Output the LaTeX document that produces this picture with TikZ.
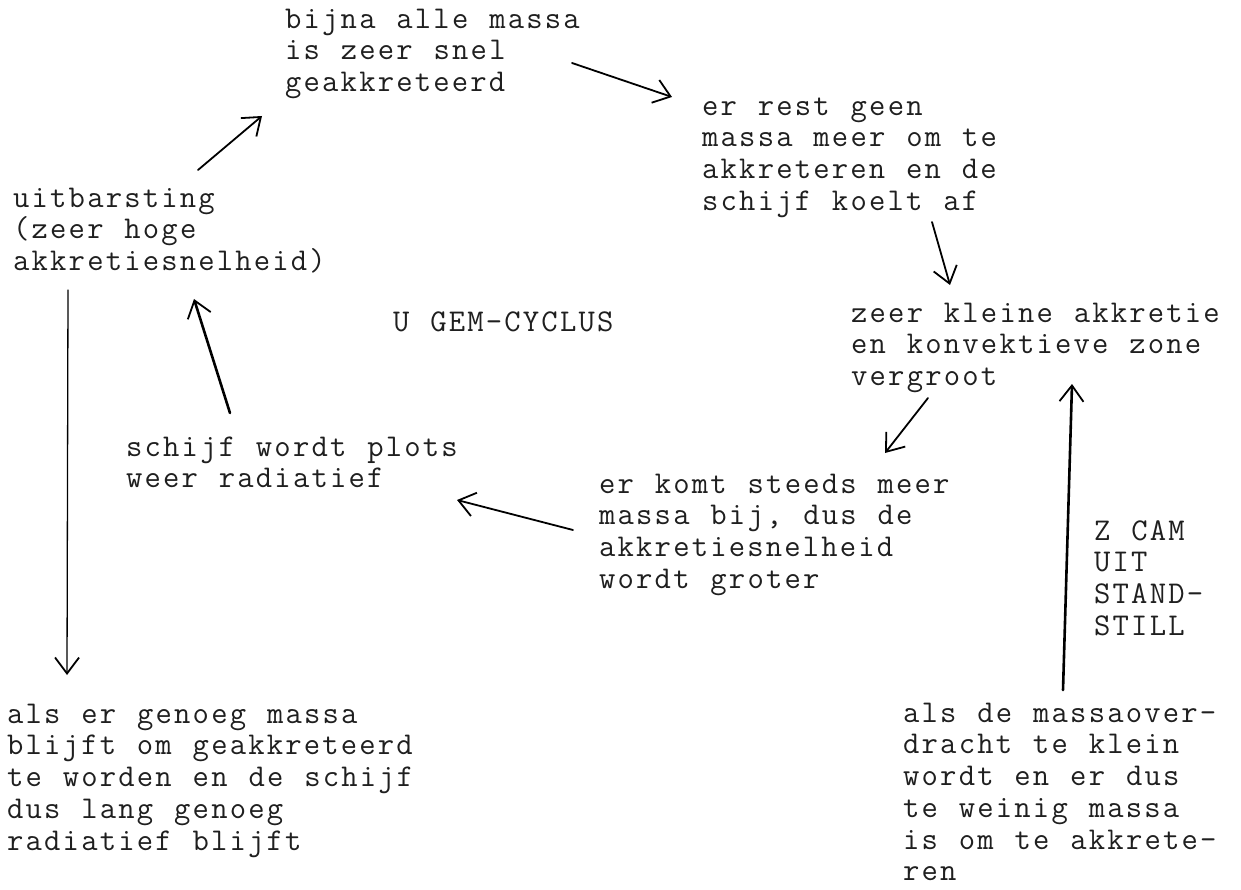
\documentclass[tikz,border=0pt]{standalone}
\usepackage{fontspec}
\newfontfamily\typewriter[LetterSpace=6.9,WordSpace=1.13]{Latin Modern Mono}
\usetikzlibrary{arrows.meta}
\newcommand\myTopStrut{\rule{0pt}{27pt}}
\tikzset{
  typed/.style={anchor=north west, inner sep=0pt, align=left,
    font=\typewriter\fontsize{31.7}{31.7}\selectfont, text=black!88},
  flow/.style={line width=1.8pt, line cap=round, black,
    -{Straight Barb[length=16pt,width=24pt,line width=1.8pt]}},
  heavyflow/.style={flow, line width=2.6pt},
  thinflow/.style={flow, line width=1.3pt}
}
\begin{document}
\begin{tikzpicture}[x=1pt,y=-1pt]
  \useasboundingbox (0,0) rectangle (1241,890);
  \fill[white] (0,0) rectangle (1241,890);

  % text blocks, each placed by the baseline of its first line (minus the strut)
  \node[typed] (bijna)  at (285,1)   {\myTopStrut bijna alle massa\\is zeer snel\\geakkreteerd};
  \node[typed] (rest)   at (702,88)  {\myTopStrut er rest geen\\massa meer om te\\akkreteren en de\\schijf koelt af};
  \node[typed] (uit)    at (13,180)  {\myTopStrut uitbarsting\\(zeer hoge\\akkretiesnelheid)};
  \node[typed] (ugem)   at (393,304) {\myTopStrut U GEM-CYCLUS};
  \node[typed] (klein)  at (851,295) {\myTopStrut zeer kleine akkretie\\en konvektieve zone\\vergroot};
  \node[typed] (plots)  at (126,429) {\myTopStrut schijf wordt plots\\weer radiatief};
  \node[typed] (komt)   at (599,466) {\myTopStrut er komt steeds meer\\massa bij, dus de\\akkretiesnelheid\\wordt groter};
  \node[typed] (zcam)   at (1094,513){\myTopStrut Z CAM\\UIT\\STAND-\\STILL};
  \node[typed] (genoeg) at (7,696)   {\myTopStrut als er genoeg massa\\blijft om geakkreteerd\\te worden en de schijf\\dus lang genoeg\\radiatief blijft};
  \node[typed] (klein2) at (903,695) {\myTopStrut als de massaover-\\dracht te klein\\wordt en er dus\\te weinig massa\\is om te akkrete-\\ren};

  % arrow end points
  \coordinate (a1s) at (198,170); \coordinate (a1e) at (262,116);
  \coordinate (a2s) at (572,63);  \coordinate (a2e) at (672,97);
  \coordinate (a3s) at (932,222); \coordinate (a3e) at (950,285);
  \coordinate (a4s) at (928,398); \coordinate (a4e) at (885,453);
  \coordinate (a5s) at (573,530); \coordinate (a5e) at (457,500);
  \coordinate (a6s) at (230,413); \coordinate (a6e) at (194,299);
  \coordinate (a7s) at (68,290);  \coordinate (a7e) at (67,675);
  \coordinate (a8s) at (1063,690);\coordinate (a8e) at (1072,384);

  % the U Gem cycle
  \draw[flow] (a1s) -- (a1e);
  \draw[flow] (a2s) -- (a2e);
  \draw[flow] (a3s) -- (a3e);
  \draw[flow] (a4s) -- (a4e);
  \draw[flow] (a5s) -- (a5e);
  \draw[heavyflow] (a6s) -- (a6e);
  % ways out of and into the cycle
  \draw[thinflow] (a7s) -- (a7e);
  \draw[heavyflow] (a8s) -- (a8e);
\end{tikzpicture}
\end{document}
